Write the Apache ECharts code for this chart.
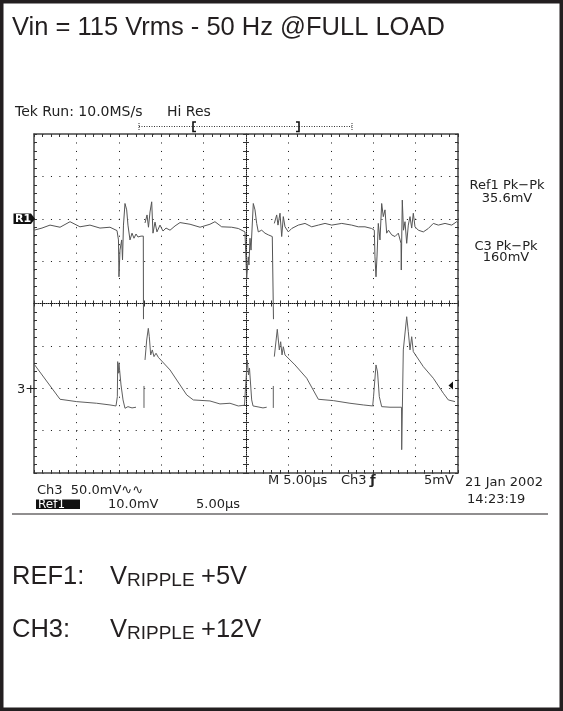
<!DOCTYPE html>
<html><head><meta charset="utf-8">
<script src="https://cdn.jsdelivr.net/npm/echarts@6/dist/echarts.min.js"></script>
<style>html,body{margin:0;padding:0;background:#fff}#c{width:563px;height:711px}</style>
</head><body><div id="c"></div>
<script>
// ---- scope settings ----
const timePerDivUs = 5;          // M 5.00us
const timeSpanUs = 50;           // 10 divisions
const vertDivs = 4;              // +/- 4 divisions
const ref1MvPerDiv = 10, ref1OffsetDiv = 2;
const ch3MvPerDiv = 50, ch3OffsetDiv = -2;

// ---- REF1 trace (time in us, value in mV relative to its marker) ----
const ref1TimeUs = [0,0.94,1.89,3.07,4.25,5.42,6.60,7.78,8.96,9.79,
 9.96,10.02,10.14,10.34,10.44,10.55,10.73,10.93,11.08,11.32,
 11.56,11.79,12.03,12.26,12.62,12.89,12.91,12.95,13.09,13.33,
 13.50,13.68,13.88,14.03,14.27,14.50,14.86,15.21,15.57,16.04,
 16.63,17.22,18.40,19.58,20.75,21.34,22.13,23.31,24.09,24.88,
 25.08,25.27,25.35,25.47,25.59,25.86,26.06,26.26,26.45,26.85,
 27.24,27.63,28.10,28.22,28.24,28.28,28.34,28.62,28.77,29.01,
 29.21,29.40,29.60,29.99,30.39,31.17,31.96,32.75,33.53,34.32,
 35.11,36.29,37.46,38.24,39.03,39.82,40.13,40.21,40.33,40.45,
 40.60,40.80,41.00,41.19,41.39,41.59,41.80,42.18,42.57,42.96,
 43.28,43.31,43.43,43.57,43.75,43.95,44.14,44.34,44.54,44.73,
 44.93,45.32,45.91,46.50,47.09,47.68,48.47,49.26,49.85,50];
const ref1Mv = [-2.7,-2.2,-1.5,-2.0,-0.7,-1.9,-1.5,-2.2,-2.0,-2.8,
 -5.0,-13.7,-7.4,-5.0,-9.7,-1.5,3.6,2.1,-1.5,-5.0,
 -3.4,-4.6,-3.6,-4.3,-4.1,-4.1,-23.7,null,-1.0,0.9,
 -2.0,1.6,4.0,-3.4,-0.8,-3.1,-1.5,-2.9,-2.2,-2.7,
 -1.7,-0.9,-1.3,-2.0,-1.3,-0.7,-1.9,-2.0,-2.3,-3.1,
 -14.1,-9.0,-10.9,-4.6,-7.4,3.6,2.1,-1.1,-3.1,-2.7,
 -3.4,-3.8,-4.2,-4.2,-23.7,null,-1.1,0.9,-1.5,1.3,
 -4.2,0.5,-1.9,-3.1,-2.3,-1.5,-1.1,-1.9,-1.5,-1.1,
 -1.5,-1.1,-1.5,-1.9,-1.9,-2.3,-2.7,-9.0,-13.7,-8.8,
 -1.1,-5.0,3.6,0.5,2.1,-3.4,-2.7,-3.8,-4.2,-3.4,
 -5.8,-12.1,4.4,-2.7,-0.7,-5.8,-1.5,0.5,-2.2,1.3,
 -1.9,-2.7,-3.1,-2.3,-1.1,-1.5,-1.1,-1.5,-0.7,-1.0];

// ---- CH3 trace (time in us, value in mV relative to its ground marker) ----
const ch3TimeUs = [0,3.07,5.04,7.39,8.96,9.67,9.82,9.83,9.87,9.94,
 10.02,10.06,10.26,10.50,10.73,11.08,11.56,12.03,12.50,12.97,
 12.97,13.03,13.09,13.29,13.48,13.60,13.76,13.95,14.15,14.39,
 14.66,16.04,17.22,18.01,18.79,20.75,21.93,23.11,24.09,24.82,
 24.88,25.15,25.29,25.41,25.67,25.83,26.42,27.00,27.44,27.80,
 28.22,28.22,28.28,28.34,28.69,28.93,29.09,29.25,29.40,29.60,
 30.78,32.16,33.53,35.30,37.26,38.83,39.94,40.04,40.33,40.51,
 40.72,41.00,41.98,43.34,43.36,43.55,43.95,44.14,44.34,44.54,
 44.73,45.91,47.09,48.27,48.86,49.65];
const ch3Mv = [28.6,-13.0,-15.8,-17.7,-19.7,-20.9,-20.9,-9.9,31.4,17.7,
 29.5,31.4,3.9,-13.8,-23.6,-21.7,-23.2,-22.4,null,-23.2,
 2.7,null,33.4,56.9,70.7,60.8,39.3,45.2,37.3,41.3,
 36.5,21.6,3.9,-7.9,-13.8,-15.0,-18.5,-17.7,-20.9,-20.0,
 -9.9,33.4,15.7,23.9,-13.8,-20.9,-22.0,-23.2,-22.4,null,
 -23.2,2.7,null,37.3,69.6,45.2,54.9,39.3,49.0,39.3,
 27.5,11.8,-13.0,-14.6,-17.7,-19.7,-20.9,-9.9,27.5,19.2,
 -9.9,-21.7,-22.4,-22.4,-72.5,45.2,84.4,66.7,45.2,60.8,
 43.2,25.5,11.8,-5.9,-13.8,-15.8];

function toDiv(times, mv, perDiv, offset) {
  return times.map((t, i) => mv[i] === null ? [t, '-'] : [t, offset + mv[i] / perDiv]);
}

const chart = echarts.init(document.getElementById('c'), null, {renderer: 'canvas'});
const G = {left: 34, top: 134, width: 424, height: 339};
const tick = {show: true, length: 3, lineStyle: {color: '#333', width: 1}};
function xAx(pos, extra) {
  return Object.assign({type: 'value', min: 0, max: timeSpanUs, interval: timePerDivUs, position: pos,
    axisLabel: {show: false}, splitLine: {show: false},
    axisLine: {show: true, onZero: false, lineStyle: {color: '#444', width: 1.5}},
    axisTick: Object.assign({inside: true}, tick),
    minorTick: {show: true, splitNumber: 5, length: 3, lineStyle: {color: '#333', width: 1}}}, extra || {});
}
function yAx(pos, extra) {
  return Object.assign({type: 'value', min: -vertDivs, max: vertDivs, interval: 1, position: pos,
    axisLabel: {show: false}, splitLine: {show: false},
    axisLine: {show: true, onZero: false, lineStyle: {color: '#444', width: 1.5}},
    axisTick: Object.assign({inside: true}, tick),
    minorTick: {show: true, splitNumber: 5, length: 3, lineStyle: {color: '#333', width: 1}}}, extra || {});
}
const dotted = {show: true, lineStyle: {color: '#111', width: 1, type: [1, 7.475]}};
const centerLine = {show: true, onZero: false, lineStyle: {color: '#111', width: 1, type: [1, 1]}};

const font = '13px "DejaVu Sans"';
const big = '25.5px "Liberation Sans", Arial';
function txt(x, y, s, f, extra) {
  return Object.assign({type: 'text', x: x, y: y, z: 100,
    style: Object.assign({text: s, font: f || font, fill: '#222', verticalAlign: 'middle', align: 'left'}, (extra||{}))});
}

const graphic = [
  {type: 'rect', shape: {x: 1.75, y: 1.75, width: 559.5, height: 707.5}, style: {fill: 'none', stroke: '#231f20', lineWidth: 3.5}, z: 100},
  {type: 'line', shape: {x1: 12, y1: 514, x2: 548, y2: 514}, style: {stroke: '#231f20', lineWidth: 1.2}, z: 100},
  txt(12, 27.5, 'Vin = 115 Vrms - 50 Hz @FULL LOAD', big, {fill: '#231f20'}),
  txt(15, 112.5, 'Tek Run: 10.0MS/s', '14px "DejaVu Sans"'),
  txt(167, 112.5, 'Hi Res', '14px "DejaVu Sans"'),
  {type: 'line', shape: {x1: 139, y1: 126.5, x2: 352, y2: 126.5}, style: {stroke: '#333', lineWidth: 1, lineDash: [1, 1.5]}, z: 100},
  {type: 'line', shape: {x1: 139, y1: 123, x2: 139, y2: 130}, style: {stroke: '#333', lineWidth: 1, lineDash: [1, 1]}, z: 100},
  {type: 'line', shape: {x1: 352, y1: 123, x2: 352, y2: 130}, style: {stroke: '#333', lineWidth: 1, lineDash: [1, 1]}, z: 100},
  {type: 'polyline', shape: {points: [[196, 122], [193, 122], [193, 131.5], [196, 131.5]]}, style: {stroke: '#111', lineWidth: 1.6, fill: 'none'}, z: 100},
  {type: 'polyline', shape: {points: [[296, 122], [299, 122], [299, 131.5], [296, 131.5]]}, style: {stroke: '#111', lineWidth: 1.6, fill: 'none'}, z: 100},
  // R1 marker
  {type: 'rect', shape: {x: 13.5, y: 213.5, width: 17.5, height: 10.5}, style: {fill: '#111'}, z: 100},
  {type: 'polygon', shape: {points: [[31, 213.5], [35, 218.8], [31, 224]]}, style: {fill: '#111'}, z: 100},
  txt(15, 219, 'R1', 'bold 11px "DejaVu Sans"', {fill: '#fff'}),
  // CH3 marker
  txt(17, 390, '3+', '13px "DejaVu Sans"'),
  // trigger level marker
  {type: 'polygon', shape: {points: [[448.5, 385.5], [453, 381.5], [453, 389.5]]}, style: {fill: '#111'}, z: 100},
  // measurements
  txt(507, 185.5, 'Ref1 Pk\u2212Pk', font, {align: 'center'}),
  txt(507, 198.5, '35.6mV', font, {align: 'center'}),
  txt(506, 247, 'C3 Pk\u2212Pk', font, {align: 'center'}),
  txt(506, 257.5, '160mV', font, {align: 'center'}),
  // bottom status
  txt(268, 481, 'M 5.00\u00b5s', font),
  txt(341, 481, 'Ch3', font),
  txt(370, 481, '\u0192', 'bold 13px "DejaVu Sans"'),
  txt(424, 481, '5mV', font),
  txt(465, 483, '21 Jan 2002', font),
  txt(467, 500, '14:23:19', font),
  txt(37, 491, 'Ch3  50.0mV\u223f\u223f', font),
  {type: 'rect', shape: {x: 36, y: 499.5, width: 44, height: 9.5}, style: {fill: '#111'}, z: 100},
  txt(38, 504.5, 'Ref1', '12px "DejaVu Sans"', {fill: '#fff'}),
  txt(108, 504.5, '10.0mV', font),
  txt(196, 504.5, '5.00\u00b5s', font),
  // notes
  txt(12, 577, 'REF1:', big, {fill: '#231f20'}),
  txt(110, 577, 'V', big, {fill: '#231f20'}),
  txt(127, 581, 'RIPPLE', '19px "Liberation Sans", Arial', {fill: '#231f20'}),
  txt(201, 577, '+5V', big, {fill: '#231f20'}),
  txt(12, 629.5, 'CH3:', big, {fill: '#231f20'}),
  txt(110, 629.5, 'V', big, {fill: '#231f20'}),
  txt(127, 633.5, 'RIPPLE', '19px "Liberation Sans", Arial', {fill: '#231f20'}),
  txt(201, 629.5, '+12V', big, {fill: '#231f20'})
];

chart.setOption({
  animation: false,
  backgroundColor: '#fff',
  grid: Object.assign({containLabel: false}, G),
  xAxis: [
    xAx('bottom', {splitLine: dotted}),
    xAx('top'),
    xAx('bottom', {offset: -169.5, axisLine: centerLine}),
    xAx('bottom', {offset: -169.5, axisLine: {show: false}, axisTick: Object.assign({inside: false}, tick)})
  ],
  yAxis: [
    yAx('left', {splitLine: dotted}),
    yAx('right'),
    yAx('left', {offset: -212, axisLine: centerLine}),
    yAx('left', {offset: -212, axisLine: {show: false}, axisTick: Object.assign({inside: false}, tick)})
  ],
  series: [
    {name: 'REF1', type: 'line', xAxisIndex: 0, yAxisIndex: 0, showSymbol: false, symbol: 'none',
     lineStyle: {color: '#555', width: 1}, data: toDiv(ref1TimeUs, ref1Mv, ref1MvPerDiv, ref1OffsetDiv), z: 5},
    {name: 'CH3', type: 'line', xAxisIndex: 0, yAxisIndex: 0, showSymbol: false, symbol: 'none',
     lineStyle: {color: '#5f5f5f', width: 1}, data: toDiv(ch3TimeUs, ch3Mv, ch3MvPerDiv, ch3OffsetDiv), z: 5}
  ],
  graphic: graphic
});
</script></body></html>
